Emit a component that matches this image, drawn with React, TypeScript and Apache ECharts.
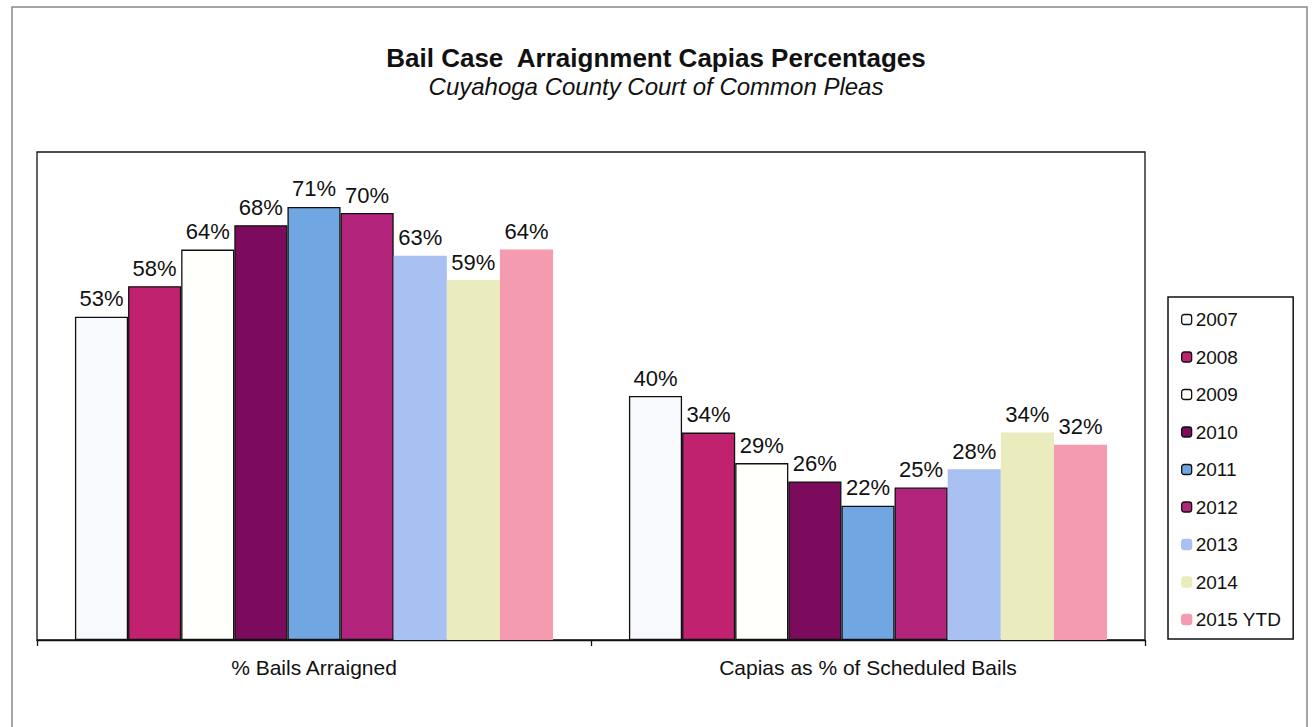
import React, { useEffect, useRef } from "react";
import * as echarts from "echarts";

const categories = ["% Bails Arraigned", "Capias as % of Scheduled Bails"];
const seriesNames = ["2007", "2008", "2009", "2010", "2011", "2012", "2013", "2014", "2015 YTD"];
const values2007 = [53, 40];
const values2008 = [58, 34];
const values2009 = [64, 29];
const values2010 = [68, 26];
const values2011 = [71, 22];
const values2012 = [70, 25];
const values2013 = [63, 28];
const values2014 = [59, 34];
const values2015 = [64, 32];
const seriesValues = [values2007, values2008, values2009, values2010, values2011, values2012, values2013, values2014, values2015];
const seriesColors = ["#f8f9fd", "#c0226f", "#fffffb", "#7c0b5e", "#70a7e2", "#b3257d", "#a9c1f2", "#ebecbd", "#f49bb0"];
const seriesBordered = [true, true, true, true, true, true, false, false, false];

const FONT = "'Liberation Sans', Arial, sans-serif";

export default function App() {
  const ref = useRef<HTMLDivElement>(null);
  useEffect(() => {
    if (!ref.current) return;
    const chart = echarts.init(ref.current, null, { renderer: "svg" });
    const series = seriesNames.map((name, i) => ({
      name,
      type: "bar",
      data: seriesValues[i],
      barGap: "0%",
      barCategoryGap: "13.7%",
      itemStyle: {
        color: seriesColors[i],
        borderColor: seriesBordered[i] ? "#111" : seriesColors[i],
        borderWidth: seriesBordered[i] ? 1.3 : 0,
      },
      label: {
        show: true,
        position: "top",
        distance: 7,
        formatter: "{c}%",
        fontFamily: FONT,
        fontSize: 22,
        color: "#111",
      },
    }));
    chart.setOption({
      animation: false,
      backgroundColor: "#ffffff",
      title: [
        {
          text: "Bail Case  Arraignment Capias Percentages",
          left: "center",
          top: 40,
          textStyle: { fontFamily: FONT, fontSize: 26, fontWeight: "bold", color: "#111" },
        },
        {
          text: "Cuyahoga County Court of Common Pleas",
          left: "center",
          top: 69,
          textStyle: { fontFamily: FONT, fontSize: 24, fontStyle: "italic", fontWeight: "normal", color: "#111" },
        },
      ],
      legend: {
        orient: "vertical",
        left: 1168,
        top: 297,
        padding: [13, 12, 10, 13],
        itemGap: 18.5,
        itemWidth: 10,
        itemHeight: 10,
        itemStyle: { borderWidth: 1.3 },
        borderColor: "#111",
        borderWidth: 1.5,
        textStyle: { fontFamily: FONT, fontSize: 19, color: "#111", lineHeight: 19, padding: [0, 0, 0, -1] },
        data: seriesNames,
      },
      grid: {
        left: 37,
        right: 167,
        top: 152,
        bottom: 87,
        show: true,
        borderColor: "#111",
        borderWidth: 1.3,
        backgroundColor: "transparent",
      },
      xAxis: {
        type: "category",
        data: categories,
        axisLine: { show: true, lineStyle: { color: "#111", width: 1.3 } },
        axisTick: { show: true, length: 6, lineStyle: { color: "#111", width: 1.3 } },
        axisLabel: { fontFamily: FONT, fontSize: 21, color: "#111", margin: 17 },
      },
      yAxis: {
        type: "value",
        min: 0,
        max: 80,
        show: false,
        splitLine: { show: false },
      },
      graphic: [
        {
          type: "rect",
          shape: { x: 12, y: 7, width: 1295, height: 740 },
          style: { fill: "none", stroke: "#888", lineWidth: 1.5 },
          silent: true,
        },
      ],
      series,
    });
    return () => chart.dispose();
  }, []);
  return (
    <div
      ref={ref}
      style={{ position: "fixed", left: 0, top: 0, width: 1312, height: 727, background: "#fff" }}
    />
  );
}
